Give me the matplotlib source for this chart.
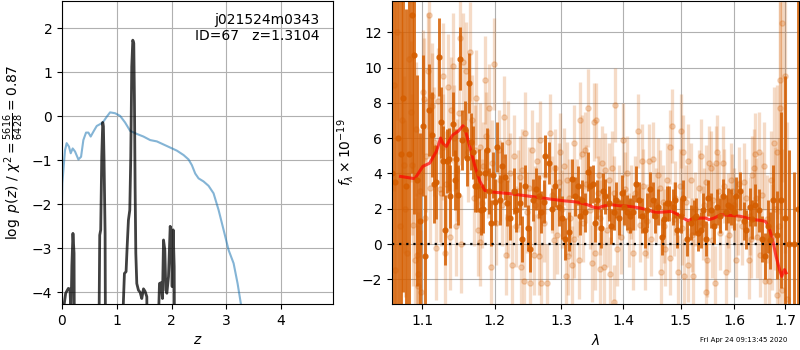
import matplotlib
matplotlib.use('Agg')
import matplotlib.pyplot as plt
from matplotlib.ticker import FixedLocator, NullLocator, FormatStrFormatter

# ---- p(z) panel ----
z_prior = [0.0, 0.006, 0.055, 0.085, 0.128, 0.159, 0.195, 0.238, 0.299, 0.348,
           0.39, 0.439, 0.482, 0.524, 0.573, 0.634, 0.707, 0.756, 0.817, 0.878,
           0.97, 1.061, 1.152, 1.244, 1.366, 1.488, 1.61, 1.732, 1.854, 1.976,
           2.098, 2.22, 2.311, 2.372, 2.433, 2.494, 2.585, 2.677, 2.768, 2.86,
           2.951, 3.043, 3.134, 3.207, 3.268, 3.32]
lnp_prior = [-1.9, -1.52, -0.77, -0.61, -0.69, -0.84, -0.73, -0.80, -0.98, -0.92,
             -0.54, -0.37, -0.37, -0.46, -0.35, -0.22, -0.17, -0.12, -0.01, 0.09,
             0.07, 0.01, -0.14, -0.33, -0.40, -0.46, -0.54, -0.57, -0.64, -0.71,
             -0.78, -0.88, -0.98, -1.11, -1.30, -1.41, -1.48, -1.58, -1.75, -2.13,
             -2.58, -3.04, -3.34, -3.80, -4.27, -5.0]

z_pdf = [0.0, 0.03, 0.037, 0.067, 0.085, 0.116, 0.146, 0.165, 0.18, 0.20,
         0.22, 0.238, 0.60, 0.677, 0.689, 0.707, 0.726, 0.744, 0.756, 0.768,
         0.787, 0.805, 1.05, 1.11, 1.14, 1.17, 1.19, 1.213, 1.238, 1.256,
         1.274, 1.293, 1.311, 1.323, 1.335, 1.348, 1.366, 1.396, 1.427, 1.457,
         1.488, 1.518, 1.549, 1.58, 1.70, 1.762, 1.78, 1.81, 1.835, 1.854,
         1.878, 1.896, 1.915, 1.945, 1.976, 1.994, 2.012, 2.03, 2.049, 2.067,
         2.10, 4.9]
lnp_pdf = [-9, -9, -4.3, -4.02, -3.98, -3.91, -3.93, -4.5, -3.4, -2.66,
           -3.11, -9, -9, -4.6, -2.70, -2.58, -0.92, -0.14, -0.23, -1.0,
           -2.66, -9, -9, -4.6, -3.57, -3.53, -2.96, -2.36, -2.13, -0.92,
           1.13, 1.73, 1.66, 0.37, -1.6, -3.11, -3.80, -3.95, -4.0, -4.14,
           -3.92, -3.98, -4.1, -9, -9, -4.6, -3.80, -3.78, -4.14, -2.81,
           -3.04, -3.95, -4.02, -3.64, -2.5, -2.66, -3.87, -2.58, -3.42, -9,
           -9, -9]

# ---- spectrum panel: main beam ----
lam_a = [1.0615, 1.0646, 1.0690, 1.0721, 1.0753, 1.0792, 1.0826, 1.0869, 1.0895, 1.0934,
         1.0968, 1.1013, 1.1045, 1.1085, 1.1125, 1.1155, 1.1190, 1.1225, 1.1250, 1.1278,
         1.1310, 1.1332, 1.1358, 1.1381, 1.1413, 1.1440, 1.1458, 1.1480, 1.1517, 1.1545,
         1.1575, 1.1605, 1.1634, 1.1665, 1.1695, 1.1720, 1.1748, 1.1780, 1.1810, 1.1838,
         1.1866, 1.1894, 1.1920, 1.1944, 1.1975, 1.2005, 1.2034, 1.2072, 1.2107, 1.2155,
         1.2180, 1.2228, 1.2277, 1.2317, 1.2366, 1.2402, 1.2441, 1.2486, 1.2516, 1.2567,
         1.2610, 1.2651, 1.2690, 1.2727, 1.2753, 1.2804, 1.2850, 1.2906, 1.2957, 1.3010,
         1.3061, 1.3113, 1.3166, 1.3219, 1.3256, 1.3290, 1.3326, 1.3379, 1.3416, 1.3460,
         1.3504, 1.3540, 1.3568, 1.3639, 1.3670, 1.3705, 1.3760, 1.3800, 1.3843, 1.3888,
         1.3927, 1.3984, 1.4017, 1.4058, 1.4118, 1.4174, 1.4220, 1.4278, 1.4318, 1.4364,
         1.4415, 1.4461, 1.4508, 1.4548, 1.4606, 1.4666, 1.4706, 1.4754, 1.4800, 1.4861,
         1.4902, 1.4943, 1.5005, 1.5052, 1.5113, 1.5181, 1.5242, 1.5273, 1.5316, 1.5366,
         1.5416, 1.5459, 1.5502, 1.5566, 1.5615, 1.5666, 1.5728, 1.5774, 1.5837, 1.5881,
         1.5932, 1.5984, 1.6031, 1.6115, 1.6179, 1.6231, 1.6296, 1.6343, 1.6408, 1.6474,
         1.6541, 1.6608, 1.6650, 1.6700, 1.6763, 1.6830, 1.6910, 1.7000, 1.7085, 1.7180,
         1.7265]
flux_a = [4.0, 3.5, 6.0, 5.1, 8.3, 3.3, 5.1, 13.0, 10.7, 3.6,
          1.3, 6.7, -0.7, 7.6, 6.2, 3.4, 3.5, 10.6, 6.9, 4.7,
          0.8, 4.7, 4.8, 2.7, 6.8, 3.6, 4.8, 2.8, 10.5, 5.9,
          6.5, 4.9, 9.1, 5.8, 5.2, 3.3, 3.3, 4.0, 1.9, 2.0,
          4.0, 5.3, 3.0, 1.2, 3.9, 2.4, 5.5, 2.5, 4.4, 3.8,
          2.3, 1.5, 3.0, 1.9, 2.3, 0.3, 3.3, 0.9, -0.3, 2.5,
          3.1, 2.7, 1.8, 2.4, 5.0, 4.6, 2.0, 3.3, 2.1, 1.5,
          0.3, 0.7, 3.7, 2.7, 3.3, 1.6, 2.5, 1.8, 4.1, 3.3,
          3.4, 1.2, 2.5, 0.9, 3.0, 2.7, 2.3, 1.0, 1.8, 2.5,
          1.5, 2.9, 2.1, 1.8, 1.6, 1.8, 3.4, 2.5, 1.6, 0.8,
          1.9, 3.1, 2.5, 1.6, 2.1, 0.4, 1.4, 2.3, 2.3, 2.1,
          2.5, 0.8, 1.6, 2.6, 0.3, 1.2, 1.5, 1.6, 0.6, 0.8,
          1.9, 0.3, 2.6, 1.9, 1.0, 2.1, 1.6, 2.7, 1.8, 2.2,
          2.1, 1.8, 2.7, 3.0, 1.3, 0.8, 2.1, 1.4, 2.2, 1.9,
          0.3, -0.7, 1.0, 0.2, 2.5, 0.5, 2.5, 1.5, 0.0, 0.0,
          2.0]
err_a = [20, 15, 14, 12, 11, 10, 10, 9, 9, 6,
         5, 4, 3.5, 2.6, 2.4, 2.2, 2.1, 2.2, 2.0, 2.0,
         2.0, 1.8, 1.8, 1.8, 1.8, 1.7, 1.7, 1.7, 1.8, 1.7,
         1.6, 1.6, 1.7, 1.6, 1.5, 1.5, 1.5, 1.4, 1.4, 1.4,
         1.4, 1.3, 1.3, 1.3, 1.3, 1.3, 1.4, 1.4, 1.4, 1.3,
         1.3, 1.3, 1.3, 1.2, 1.2, 1.3, 1.2, 1.3, 1.3, 1.2,
         1.2, 1.2, 1.2, 1.2, 1.2, 1.2, 1.2, 1.2, 1.1, 1.2,
         1.2, 1.1, 1.1, 1.1, 1.1, 1.1, 1.1, 1.1, 1.1, 1.1,
         1.1, 1.1, 1.1, 1.1, 1.0, 1.0, 1.0, 1.0, 1.0, 1.0,
         1.0, 1.0, 1.0, 1.0, 1.0, 1.0, 1.0, 1.0, 1.0, 1.0,
         1.0, 1.0, 1.0, 1.0, 1.0, 1.0, 1.0, 1.0, 1.0, 1.0,
         1.0, 1.0, 1.0, 1.0, 1.0, 1.0, 1.0, 1.0, 1.0, 1.0,
         1.0, 1.0, 1.0, 1.0, 1.0, 1.0, 1.0, 1.0, 1.0, 1.0,
         1.0, 1.0, 1.1, 1.1, 1.1, 1.1, 1.1, 1.1, 1.2, 1.2,
         1.3, 1.3, 1.5, 1.6, 2.0, 2.5, 5.0, 8.0, 5.3, 4.1,
         15]

# ---- other beams (faint) ----
lam_b = [1.0630, 1.0670, 1.0710, 1.0760, 1.0800, 1.0850, 1.0886, 1.0905, 1.0939, 1.0942,
         1.0947, 1.0992, 1.1013, 1.1022, 1.1058, 1.1092, 1.1130, 1.1138, 1.1190, 1.1237,
         1.1255, 1.1278, 1.1285, 1.1302, 1.1372, 1.1390, 1.1413, 1.1435, 1.1458, 1.1517,
         1.1527, 1.1558, 1.1590, 1.1648, 1.1680, 1.1720, 1.1757, 1.1789, 1.1795, 1.1838,
         1.1860, 1.1905, 1.1920, 1.1944, 1.1958, 1.1985, 1.2058, 1.2110, 1.2141, 1.2170,
         1.2200, 1.2228, 1.2253, 1.2287, 1.2340, 1.2387, 1.2402, 1.2426, 1.2451, 1.2480,
         1.2526, 1.2552, 1.2577, 1.2600, 1.2628, 1.2651, 1.2677, 1.2685, 1.2730, 1.2780,
         1.2820, 1.2860, 1.2906, 1.2932, 1.2985, 1.3010, 1.3077, 1.3087, 1.3097, 1.3140,
         1.3192, 1.3198, 1.3250, 1.3282, 1.3290, 1.3326, 1.3379, 1.3416, 1.3450, 1.3487,
         1.3514, 1.3541, 1.3557, 1.3579, 1.3611, 1.3620, 1.3650, 1.3688, 1.3705, 1.3770,
         1.3776, 1.3814, 1.3843, 1.3871, 1.3899, 1.3930, 1.3998, 1.4058, 1.4100, 1.4174,
         1.4200, 1.4244, 1.4318, 1.4376, 1.4400, 1.4450, 1.4519, 1.4560, 1.4625, 1.4648,
         1.4700, 1.4724, 1.4754, 1.4812, 1.4818, 1.4849, 1.4900, 1.4955, 1.5005, 1.5030,
         1.5052, 1.5068, 1.5135, 1.5140, 1.5181, 1.5226, 1.5270, 1.5379, 1.5400, 1.5455,
         1.5459, 1.5491, 1.5520, 1.5553, 1.5600, 1.5628, 1.5647, 1.5678, 1.5720, 1.5774,
         1.5805, 1.5837, 1.5870, 1.5932, 1.6000, 1.6028, 1.6092, 1.6150, 1.6220, 1.6276,
         1.6300, 1.6343, 1.6375, 1.6408, 1.6440, 1.6474, 1.6540, 1.6608, 1.6640, 1.6675,
         1.6709, 1.6777, 1.6845, 1.6848, 1.6900, 1.6895, 1.6946, 1.6950, 1.7000, 1.7033]
flux_b = [9.0, 12.0, 1.0, 4.5, -0.5, 7.5, 1.1, -0.9, -0.6, -1.7,
          -2.4, -2.7, 8.6, 8.2, 5.0, 13.0, 7.8, 8.4, -0.2, 3.1,
          2.9, 9.5, 5.5, -0.5, 0.4, 7.6, 10.1, 6.0, 1.0, 11.7,
          0.0, 10.3, 9.8, 10.9, 7.0, 5.3, 0.8, 0.1, 5.5, 4.4,
          9.3, 4.0, 7.7, -1.3, 4.6, 10.2, 5.3, 2.2, 7.2, -0.6,
          1.5, 4.0, -1.2, 5.0, 3.0, -1.3, 4.2, -2.1, 6.3, 1.8,
          -2.2, 5.3, -0.6, 2.2, 4.7, -0.7, 5.9, -2.2, 1.2, -2.2,
          6.3, 2.8, 4.3, 0.5, 5.2, 2.0, -1.8, 3.6, -0.7, 1.5,
          5.7, 0.3, 2.6, -0.9, 7.0, 5.1, 5.3, 7.7, 1.9, -1.1,
          6.9, -0.5, 7.0, 2.9, -1.4, 1.5, 4.6, -1.3, 4.2, 3.6,
          -1.7, 4.3, -3.3, 7.9, -0.3, 2.4, 5.9, 4.0, 0.8, -0.5,
          2.9, 6.4, 4.7, -0.5, 1.3, 4.7, 4.8, 2.2, 3.2, -1.6,
          1.0, -0.3, 3.6, 5.5, -0.8, 6.7, 2.6, -1.6, 6.4, 0.9,
          5.2, -1.8, 4.7, -1.2, 3.6, -1.8, 2.0, 5.0, 1.2, 3.5,
          -2.7, -0.9, 4.6, 4.3, 2.5, -2.2, 4.6, 5.2, 0.6, 4.6,
          3.3, -1.6, 1.9, 3.6, 2.2, -0.9, 3.4, 1.0, 2.6, -0.9,
          1.6, 3.9, 4.3, 5.1, 0.4, 5.2, 2.8, -2.1, 1.4, -2.1,
          3.6, 5.7, 5.2, -2.9, 7.7, 9.3, 12.5, -2.6, 9.5, -3.1]
err_b = [6, 5, 5, 5, 4.5, 4, 3.5, 3.5, 3.5, 3.5,
         3.5, 3.5, 3.5, 3.5, 3.2, 3.2, 3.0, 3.0, 3.0, 3.0,
         3.0, 3.0, 3.0, 3.0, 3.0, 3.0, 3.0, 3.0, 2.8, 3.0,
         2.8, 2.8, 2.8, 2.8, 2.6, 2.6, 2.6, 2.5, 2.5, 2.5,
         2.5, 2.5, 2.5, 2.4, 2.4, 2.6, 2.3, 2.3, 2.3, 2.3,
         2.3, 2.3, 2.3, 2.3, 2.3, 2.3, 2.3, 2.3, 2.3, 2.3,
         2.3, 2.3, 2.3, 2.2, 2.2, 2.2, 2.2, 2.2, 2.2, 2.2,
         2.2, 2.2, 2.2, 2.2, 2.2, 2.2, 2.2, 2.2, 2.2, 2.2,
         2.2, 2.2, 2.2, 2.2, 2.2, 2.2, 2.2, 2.2, 2.2, 2.2,
         2.2, 2.1, 2.1, 2.1, 2.1, 2.1, 2.1, 2.1, 2.1, 2.1,
         2.1, 2.1, 2.1, 2.1, 2.1, 2.1, 2.1, 2.1, 2.1, 2.1,
         2.1, 2.1, 2.1, 2.1, 2.1, 2.1, 2.1, 2.1, 2.1, 2.1,
         2.1, 2.1, 2.1, 2.1, 2.1, 2.1, 2.1, 2.1, 2.1, 2.1,
         2.1, 2.1, 2.1, 2.1, 2.1, 2.1, 2.1, 2.1, 2.1, 2.1,
         2.1, 2.1, 2.1, 2.1, 2.1, 2.1, 2.1, 2.1, 2.1, 2.1,
         2.1, 2.1, 2.1, 2.1, 2.1, 2.1, 2.1, 2.2, 2.2, 2.2,
         2.2, 2.2, 2.2, 2.3, 2.3, 2.3, 2.4, 2.5, 2.5, 2.6,
         2.8, 3.2, 3.8, 4.0, 6.0, 7.0, 9.0, 8.0, 10.0, 10.0]

lam_c = [1.0650, 1.0735, 1.0780, 1.0825, 1.0870, 1.0920, 1.0975, 1.1040, 1.1075, 1.1110,
         1.1165, 1.1210, 1.1320, 1.1350, 1.1475, 1.1500, 1.1620, 1.1700, 1.1740, 1.1820,
         1.1880, 1.2020, 1.2085, 1.2190, 1.2310, 1.2370, 1.2500, 1.2660, 1.2750, 1.2880,
         1.2960, 1.3040, 1.3120, 1.3170, 1.3350, 1.3395, 1.3600, 1.3740, 1.3850, 1.3960,
         1.4030, 1.4140, 1.4280, 1.4340, 1.4480, 1.4590, 1.4680, 1.4880, 1.4980, 1.5100,
         1.5210, 1.5330, 1.5430, 1.5580, 1.5700, 1.5900, 1.5960, 1.6060, 1.6190, 1.6320,
         1.6420, 1.6500, 1.6580, 1.6740, 1.6800, 1.6870]
flux_c = [-1.5, 7.0, 2.0, 10.5, 4.5, 6.5, 3.0, 1.5, 9.8, 3.2,
          5.8, 8.1, 3.4, 8.9, 4.2, 7.4, 5.2, 2.6, 8.3, 2.3,
          6.1, 1.2, 3.6, 5.8, 1.0, 3.8, 3.2, 1.6, 3.9, 0.2,
          3.5, 4.4, 2.6, -1.2, 1.2, 3.4, 3.9, 0.8, 2.9, 0.4,
          3.1, 2.4, 1.1, 3.3, 0.3, 3.9, 2.4, 1.4, 3.3, 2.4,
          0.5, 3.2, 2.2, 0.2, 3.0, 0.5, 3.0, 1.5, 3.5, 0.3,
          2.6, -0.6, 4.4, 0.4, 2.0, 1.0]
err_c = [5.5, 5.0, 5.0, 4.5, 4.0, 3.8, 3.5, 3.4, 3.3, 3.2,
         3.1, 3.0, 3.0, 3.0, 2.9, 2.9, 2.8, 2.7, 2.7, 2.5,
         2.5, 2.4, 2.3, 2.3, 2.3, 2.3, 2.3, 2.2, 2.2, 2.2,
         2.2, 2.2, 2.2, 2.2, 2.2, 2.2, 2.1, 2.1, 2.1, 2.1,
         2.1, 2.1, 2.1, 2.1, 2.1, 2.1, 2.1, 2.1, 2.1, 2.1,
         2.1, 2.1, 2.1, 2.1, 2.1, 2.1, 2.1, 2.1, 2.2, 2.2,
         2.3, 2.4, 2.5, 3.0, 3.5, 5.0]

lam_model = [1.0720, 1.0905, 1.1010, 1.1100, 1.1190, 1.1247, 1.1280, 1.1325, 1.1370, 1.1415,
             1.1484, 1.1553, 1.1577, 1.1648, 1.1720, 1.1790, 1.1860, 1.1935, 1.2034, 1.2228,
             1.2526, 1.2780, 1.3036, 1.3248, 1.3410, 1.3514, 1.3595, 1.3650, 1.3787, 1.3953,
             1.4118, 1.4289, 1.4461, 1.4548, 1.4693, 1.4840, 1.4955, 1.5045, 1.5135, 1.5226,
             1.5366, 1.5460, 1.5520, 1.5615, 1.5741, 1.5932, 1.6115, 1.6250, 1.6375, 1.6509,
             1.6610, 1.6680, 1.6750, 1.6820, 1.6890, 1.6935, 1.6990, 1.7025]
flux_model = [3.83, 3.70, 4.40, 4.58, 5.25, 6.00, 5.68, 5.53, 5.90, 6.19,
              6.38, 6.70, 6.57, 5.53, 4.40, 3.55, 3.04, 2.96, 2.92, 2.85,
              2.70, 2.57, 2.45, 2.38, 2.23, 2.08, 2.04, 2.13, 2.23, 2.17,
              2.13, 2.04, 1.89, 1.79, 1.81, 1.85, 1.66, 1.47, 1.32, 1.45,
              1.47, 1.47, 1.38, 1.47, 1.66, 1.62, 1.57, 1.47, 1.38, 1.34,
              1.28, 0.91, 0.25, -0.70, -1.45, -1.83, -1.45, -1.64]

g141 = (0.8352941176470589, 0.3686274509803922, 0.0)

fig = plt.figure(figsize=(8, 3.5), dpi=100)

ax = fig.add_axes([0.0775, 0.1314, 0.3388, 0.8657])
ax.plot(z_prior, lnp_prior, color='tab:blue', alpha=0.55, lw=1.5)
ax.plot(z_pdf, lnp_pdf, color='k', alpha=0.75, lw=2)
ax.set_xlim(0, 4.95)
ax.set_ylim(-4.265, 2.62)
ax.set_xlabel(r'$z$')
ax.set_ylabel(r'$\log\ p(z)$' + ' / ' + r'$\chi^2=\frac{5616}{6428}=0.87$')
ax.text(0.95, 0.96, 'j021524m0343\nID=67   z=1.3104', ha='right', va='top',
        transform=ax.transAxes, fontsize=10)
ax.grid()

ax2 = fig.add_axes([0.49, 0.1314, 0.5088, 0.8657])
for lam, flux, err in [(lam_b, flux_b, err_b), (lam_c, flux_c, err_c)]:
    ax2.errorbar(lam, flux, yerr=err, color=g141, alpha=0.22, marker='o', ms=3.8,
                 linestyle='None', elinewidth=2.4)
ax2.errorbar(lam_a, flux_a, yerr=err_a, color=g141, alpha=0.85, marker='o', ms=3.5,
             linestyle='None', elinewidth=2.1)
ax2.plot(lam_model, flux_model, color='r', alpha=0.7, lw=2.2)
ax2.axhline(0, color='k', linestyle=(0, (1, 2.2)), lw=1.6)
ax2.set_xscale('log')
ax2.set_xlim(1.061, 1.729)
ax2.set_ylim(-3.4, 13.77)
ax2.xaxis.set_major_locator(FixedLocator([1.1, 1.2, 1.3, 1.4, 1.5, 1.6, 1.7]))
ax2.xaxis.set_major_formatter(FormatStrFormatter('%.1f'))
ax2.xaxis.set_minor_locator(NullLocator())
ax2.set_xlabel(r'$\lambda$')
ax2.set_ylabel(r'$f_\lambda\times 10^{-19}$')
ax2.grid()

fig.text(0.984, 0.02, 'Fri Apr 24 09:13:45 2020', ha='right', va='bottom', fontsize=5)

fig.savefig('out.png', dpi=100)
